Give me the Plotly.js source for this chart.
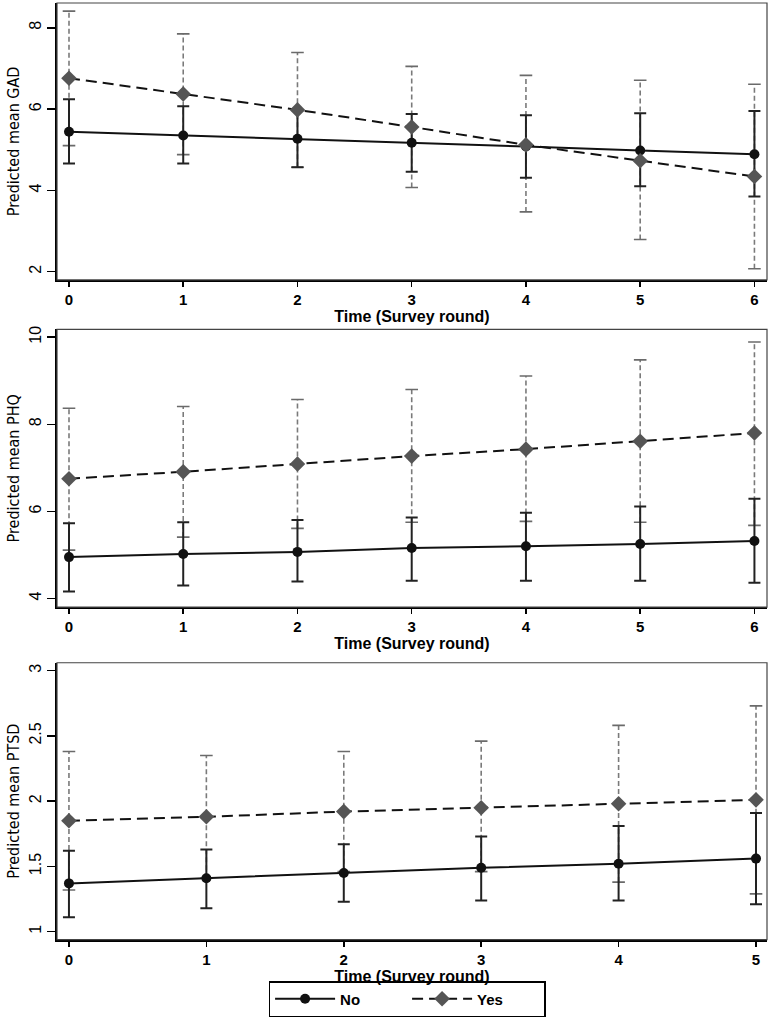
<!DOCTYPE html>
<html>
<head>
<meta charset="utf-8">
<script src="https://cdn.plot.ly/plotly-3.0.1.min.js"></script>
<style>
  body { margin: 0; background: #fff; }
  #chart { width: 771px; height: 1017px; }
</style>
</head>
<body>
<div id="chart"></div>
<script>
// survey rounds
var rounds6 = [0, 1, 2, 3, 4, 5, 6];
var rounds5 = [0, 1, 2, 3, 4, 5];

// GAD
var gadNoMean  = [5.44, 5.35, 5.27, 5.17, 5.08, 4.98, 4.89];
var gadNoLo    = [4.66, 4.66, 4.57, 4.46, 4.31, 4.10, 3.85];
var gadNoHi    = [6.24, 6.07, 5.97, 5.88, 5.85, 5.90, 5.95];
var gadYesMean = [6.76, 6.37, 5.98, 5.56, 5.12, 4.73, 4.34];
var gadYesLo   = [5.10, 4.88, 4.57, 4.07, 3.47, 2.79, 2.07];
var gadYesHi   = [8.41, 7.85, 7.39, 7.05, 6.83, 6.71, 6.61];

// PHQ
var phqNoMean  = [4.95, 5.02, 5.07, 5.16, 5.20, 5.25, 5.32];
var phqNoLo    = [4.16, 4.30, 4.39, 4.41, 4.41, 4.41, 4.36];
var phqNoHi    = [5.73, 5.75, 5.80, 5.86, 5.97, 6.11, 6.29];
var phqYesMean = [6.75, 6.91, 7.09, 7.27, 7.43, 7.61, 7.80];
var phqYesLo   = [5.11, 5.41, 5.61, 5.75, 5.77, 5.75, 5.68];
var phqYesHi   = [8.37, 8.41, 8.57, 8.80, 9.11, 9.48, 9.89];

// PTSD
var ptsdNoMean  = [1.37, 1.41, 1.45, 1.49, 1.52, 1.56];
var ptsdNoLo    = [1.11, 1.18, 1.23, 1.24, 1.24, 1.21];
var ptsdNoHi    = [1.62, 1.63, 1.67, 1.73, 1.81, 1.91];
var ptsdYesMean = [1.85, 1.88, 1.92, 1.95, 1.98, 2.01];
var ptsdYesLo   = [1.32, 1.41, 1.46, 1.46, 1.38, 1.29];
var ptsdYesHi   = [2.38, 2.35, 2.38, 2.46, 2.58, 2.73];

var yTitles = ['Predicted mean GAD', 'Predicted mean PHQ', 'Predicted mean PTSD'];
var xTitle = 'Time (Survey round)';

var traces = [];

function addPanel(n, x, noMean, noLo, noHi, yesMean, yesLo, yesHi) {
  var xa = n === 1 ? 'x' : 'x' + n;
  var ya = n === 1 ? 'y' : 'y' + n;

  // dashed gray CI for "Yes"
  var cx = [], cy = [];
  for (var i = 0; i < x.length; i++) {
    cx.push(x[i], x[i], null);
    cy.push(yesLo[i], yesHi[i], null);
  }
  traces.push({
    x: cx, y: cy, xaxis: xa, yaxis: ya, mode: 'lines', showlegend: false, hoverinfo: 'skip',
    line: {color: '#7a7a7a', width: 1.6, dash: '5px,3px'}
  });
  traces.push({
    x: x.concat(x), y: yesLo.concat(yesHi), xaxis: xa, yaxis: ya, mode: 'markers',
    showlegend: false, hoverinfo: 'skip',
    marker: {symbol: 'line-ew', size: 9, line: {color: '#6a6a6a', width: 1.6}}
  });

  // "No" line with solid CI
  traces.push({
    x: x, y: noMean, xaxis: xa, yaxis: ya, name: 'No', mode: 'lines+markers',
    showlegend: n === 1, legendrank: 1,
    line: {color: '#111', width: 2},
    marker: {symbol: 'circle', size: 10, color: '#111'},
    error_y: {
      type: 'data', symmetric: false,
      array: noHi.map(function (v, i) { return v - noMean[i]; }),
      arrayminus: noLo.map(function (v, i) { return noMean[i] - v; }),
      color: '#222', thickness: 2, width: 6
    }
  });

  // "Yes" dashed line
  traces.push({
    x: x, y: yesMean, xaxis: xa, yaxis: ya, name: 'Yes', mode: 'lines+markers',
    showlegend: n === 1, legendrank: 2,
    line: {color: '#111', width: 2, dash: '11px,6px'},
    marker: {symbol: 'diamond', size: 12, color: '#555'}
  });
}

addPanel(1, rounds6, gadNoMean, gadNoLo, gadNoHi, gadYesMean, gadYesLo, gadYesHi);
addPanel(2, rounds6, phqNoMean, phqNoLo, phqNoHi, phqYesMean, phqYesLo, phqYesHi);
addPanel(3, rounds5, ptsdNoMean, ptsdNoLo, ptsdNoHi, ptsdYesMean, ptsdYesLo, ptsdYesHi);

var H = 1017, W = 771;
function dom(top, bottom) { return [(H - bottom) / H, (H - top) / H]; }
var xDom = [57 / W, 767 / W];

function xAxis(range, anchor) {
  return {
    domain: xDom, anchor: anchor, range: range,
    tickmode: 'linear', dtick: 1, ticks: 'outside', ticklen: 5, tickwidth: 1.5, tickcolor: '#000',
    showline: true, linecolor: '#000', linewidth: 2, showgrid: false, zeroline: false,
    tickfont: {family: 'Liberation Sans, Arial, sans-serif', size: 15, color: '#000', weight: 'bold'},
    title: {text: xTitle, standoff: 0,
      font: {family: 'Liberation Sans, Arial, sans-serif', size: 16, color: '#000', weight: 'bold'}},
    automargin: false, fixedrange: true
  };
}
function yAxis(domain, range, dtick, title, anchor) {
  return {
    domain: domain, anchor: anchor, range: range,
    tickmode: 'linear', dtick: dtick, tick0: 0, ticks: 'outside', ticklen: 8, tickwidth: 1.5, tickcolor: '#000',
    tickangle: -90,
    showline: true, linecolor: '#000', linewidth: 2, showgrid: false, zeroline: false,
    tickfont: {family: 'Liberation Sans, Arial, sans-serif', size: 16, color: '#000'},
    title: {text: title, standoff: 3,
      font: {family: 'Liberation Sans Narrow, DejaVu Sans Condensed, sans-serif', size: 16, color: '#000'}},
    automargin: false, fixedrange: true
  };
}

var frames = ['', '2', '3'].map(function (s) {
  return {type: 'rect', xref: 'x' + s + ' domain', yref: 'y' + s + ' domain',
    x0: 0, x1: 1, y0: 0, y1: 1, line: {color: '#444', width: 1.2}};
});

var layout = {
  width: W, height: H,
  margin: {l: 0, r: 0, t: 0, b: 0},
  paper_bgcolor: '#fff', plot_bgcolor: '#fff',
  showlegend: true,
  legend: {
    orientation: 'h', x: 0.528, xanchor: 'center', y: (H - 989) / H, yanchor: 'top',
    bordercolor: '#000', borderwidth: 1.5, itemwidth: 60, entrywidth: 62,
    font: {family: 'Liberation Sans, Arial, sans-serif', size: 15, color: '#000', weight: 'bold'}
  },
  xaxis: xAxis([-0.105, 6.11], 'y'),
  yaxis: yAxis(dom(3, 282), [1.8, 8.61], 2, yTitles[0], 'x'),
  xaxis2: xAxis([-0.105, 6.11], 'y2'),
  yaxis2: yAxis(dom(332, 612), [3.8, 10.18], 2, yTitles[1], 'x2'),
  xaxis3: xAxis([-0.087, 5.08], 'y3'),
  yaxis3: yAxis(dom(668, 947), [0.94, 3.06], 0.5, yTitles[2], 'x3'),
  shapes: frames
};

Plotly.newPlot('chart', traces, layout, {displayModeBar: false, staticPlot: true});
</script>
</body>
</html>
